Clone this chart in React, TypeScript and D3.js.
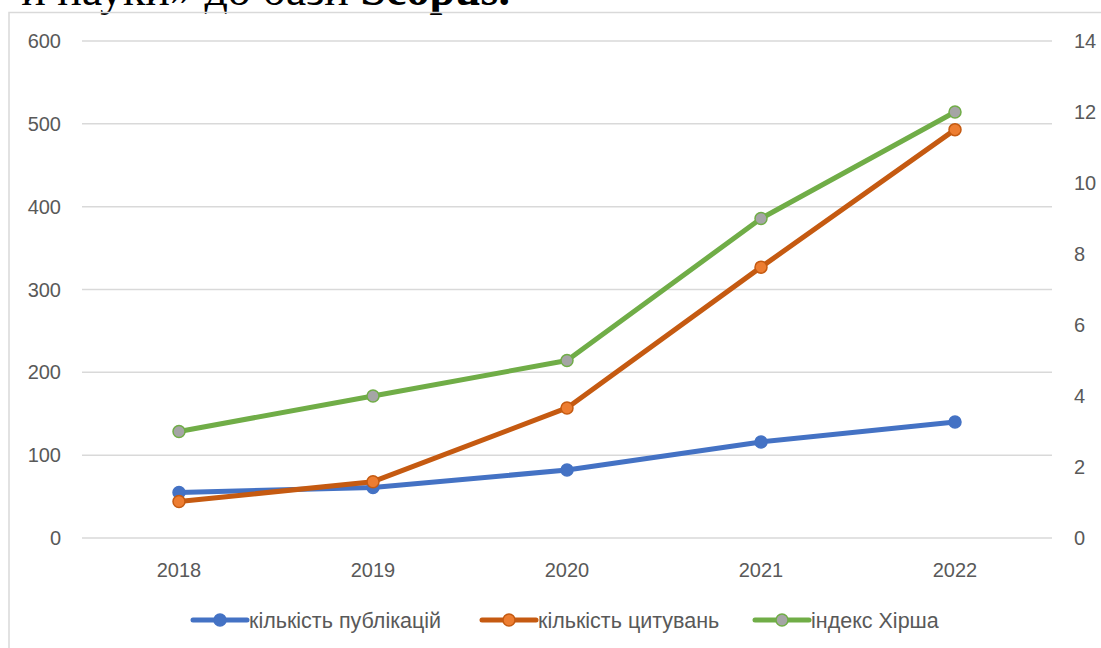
import * as d3 from "d3";

const years = ["2018", "2019", "2020", "2021", "2022"];
const publications = [55, 61, 82, 116, 140];
const citations = [44, 68, 157, 327, 493];
const hirsch = [3, 4, 5, 9, 12];
const leftTicks = [0, 100, 200, 300, 400, 500, 600];
const rightTicks = [0, 2, 4, 6, 8, 10, 12, 14];
const seriesNames = ["кількість публікацій", "кількість цитувань", "індекс Хірша"];

const W = 1101;
const H = 648;
const plot = { left: 82, right: 1052, top: 41, bottom: 538 };
const font = "'Liberation Sans', Arial, sans-serif";
const labelColor = "#595959";
const gridColor = "#D9D9D9";

const styles = [
  { line: "#4472C4", fill: "#4472C4", stroke: "#4472C4" },
  { line: "#C55A11", fill: "#ED7D31", stroke: "#C55A11" },
  { line: "#70AD47", fill: "#A5A5A5", stroke: "#70AD47" },
];

export default function App() {
  const x = d3.scaleBand<string>().domain(years).range([plot.left, plot.right]).padding(0);
  const cx = (year: string) => (x(year) ?? 0) + x.bandwidth() / 2;
  const yLeft = d3.scaleLinear().domain([0, 600]).range([plot.bottom, plot.top]);
  const yRight = d3.scaleLinear().domain([0, 14]).range([plot.bottom, plot.top]);

  const series = [
    { name: seriesNames[0], values: publications, y: yLeft },
    { name: seriesNames[1], values: citations, y: yLeft },
    { name: seriesNames[2], values: hirsch, y: yRight },
  ];

  const legendX = [193, 482, 755];

  return (
    <svg width={W} height={H} viewBox={`0 0 ${W} ${H}`} style={{ position: "absolute", left: 0, top: 0, background: "#fff" }}>
      <rect x={0} y={0} width={W} height={H} fill="#fff" />
      {/* heading of the page, cut off at the top in the source */}
      <text x={510} y={5} textAnchor="end" fontFamily="'Liberation Serif', 'Times New Roman', serif" fontSize={46} fill="#000">
        <tspan>и науки» до бази </tspan>
        <tspan fontWeight="bold">Scopus.</tspan>
      </text>
      <rect x={9} y={12.5} width={W + 20} height={H + 20} fill="none" stroke={gridColor} strokeWidth={1.5} />

      {leftTicks.map((t) => (
        <g key={`l${t}`}>
          <line x1={plot.left} x2={plot.right} y1={yLeft(t)} y2={yLeft(t)} stroke={gridColor} strokeWidth={1.5} />
          <text x={61} y={yLeft(t)} dy="0.35em" textAnchor="end" fontFamily={font} fontSize={20} fill={labelColor}>{t}</text>
        </g>
      ))}
      {rightTicks.map((t) => (
        <text key={`r${t}`} x={1074} y={yRight(t)} dy="0.35em" textAnchor="start" fontFamily={font} fontSize={20} fill={labelColor}>{t}</text>
      ))}
      {years.map((yr) => (
        <text key={yr} x={cx(yr)} y={577} textAnchor="middle" fontFamily={font} fontSize={20} fill={labelColor}>{yr}</text>
      ))}

      {series.map((s, i) => {
        const line = d3.line<number>().x((_, k) => cx(years[k])).y((v) => s.y(v));
        return (
          <g key={s.name}>
            <path d={line(s.values) ?? ""} fill="none" stroke={styles[i].line} strokeWidth={5} strokeLinejoin="round" strokeLinecap="round" />
            {s.values.map((v, k) => (
              <circle key={k} cx={cx(years[k])} cy={s.y(v)} r={6} fill={styles[i].fill} stroke={styles[i].stroke} strokeWidth={1.5} />
            ))}
          </g>
        );
      })}

      {series.map((s, i) => (
        <g key={`leg${i}`} transform={`translate(${legendX[i]}, 620)`}>
          <line x1={0} x2={54} y1={0} y2={0} stroke={styles[i].line} strokeWidth={5} strokeLinecap="round" />
          <circle cx={27} cy={0} r={6} fill={styles[i].fill} stroke={styles[i].stroke} strokeWidth={1.5} />
          <text x={56} y={0} dy="0.35em" fontFamily={font} fontSize={21.5} fill={labelColor}>{s.name}</text>
        </g>
      ))}
    </svg>
  );
}
